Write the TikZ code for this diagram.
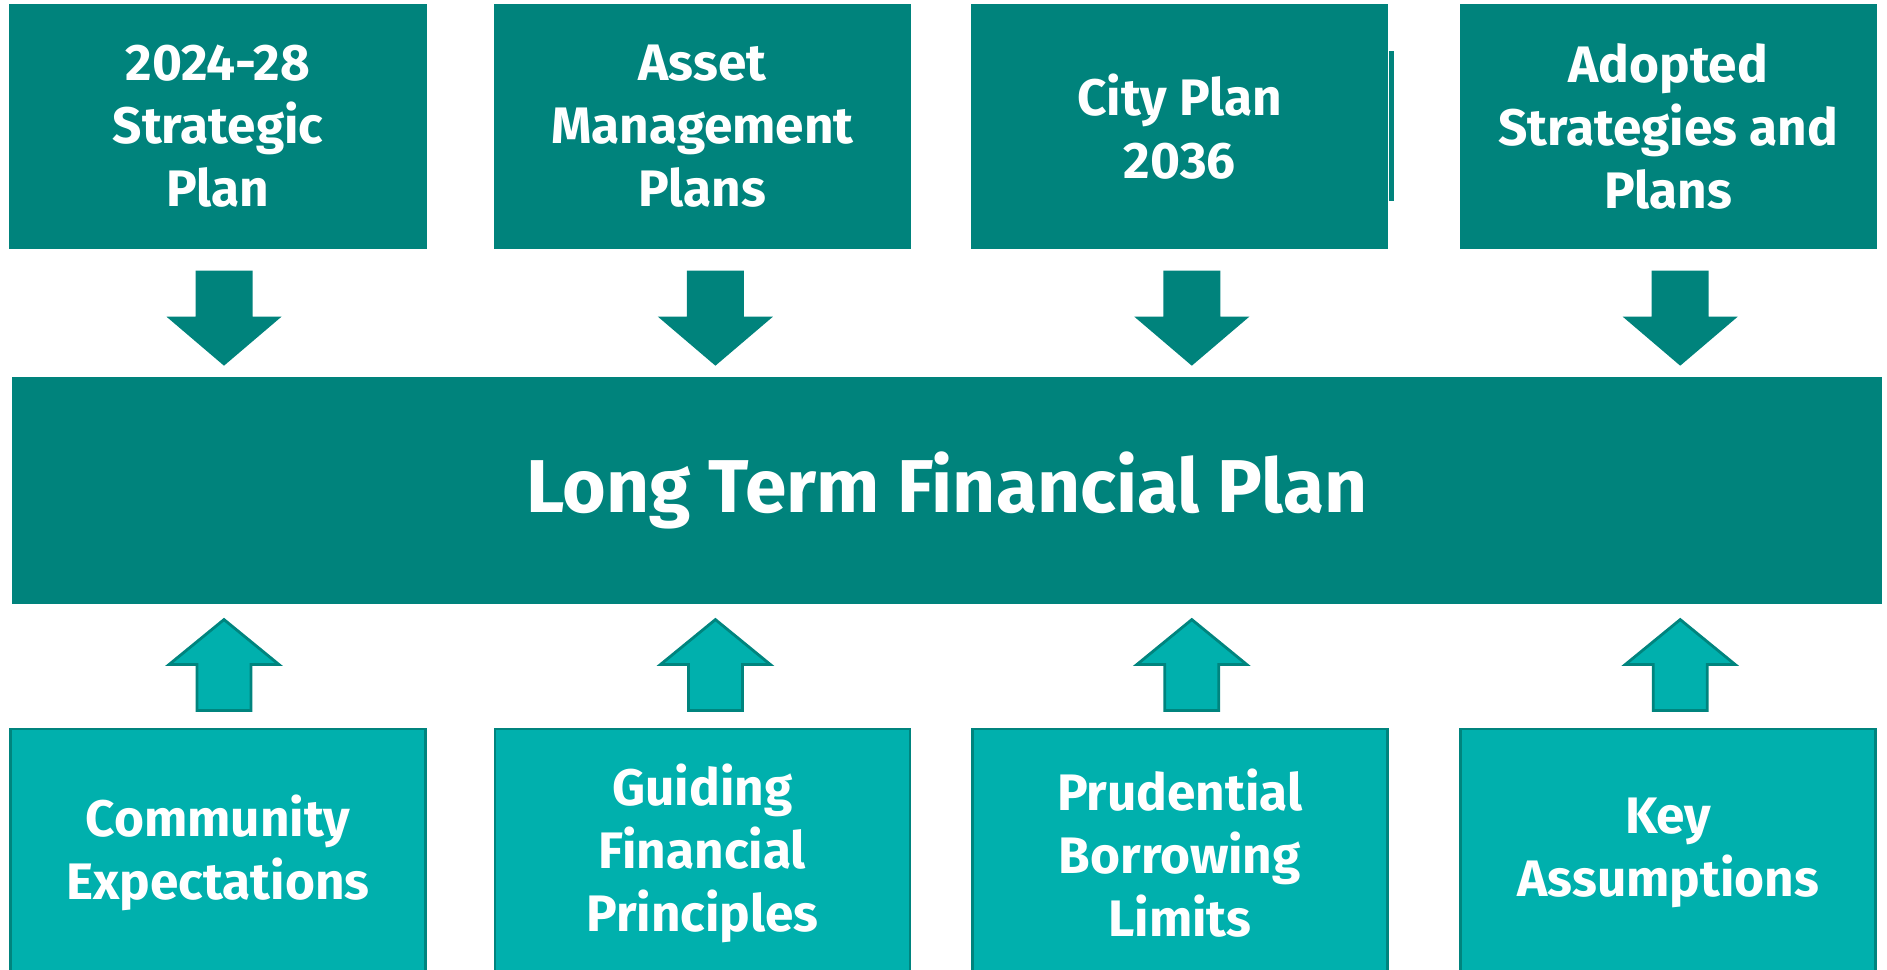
\documentclass[tikz,border=0pt]{standalone}
\usepackage{fontspec}
\setmainfont{Fira Sans}
\usetikzlibrary{positioning,calc}

\definecolor{tealdark}{RGB}{0,131,124}
\definecolor{teallight}{RGB}{0,176,173}
\definecolor{tealedge}{RGB}{0,132,126}

\begin{document}
\begin{tikzpicture}[
    topbox/.style={rectangle, fill=tealdark, text=white, align=center,
      minimum width=4.17cm, minimum height=2.45cm,
      font=\bfseries\fontsize{14.6}{17.9}\selectfont},
    lowbox/.style={rectangle, fill=teallight, draw=tealedge, line width=0.8pt,
      text=white, align=center, minimum width=4.15cm, minimum height=2.48cm,
      font=\bfseries\fontsize{14.6}{17.9}\selectfont},
    arrowdown/.pic={
      \fill[tealdark] (-0.285,0.95) -- (0.285,0.95) -- (0.285,0.49) -- (0.575,0.49)
        -- (0,0) -- (-0.575,0.49) -- (-0.285,0.49) -- cycle;},
    arrowup/.pic={
      \filldraw[fill=teallight, draw=tealedge, line width=0.8pt]
        (-0.27,0) -- (0.27,0) -- (0.27,0.46) -- (0.55,0.46)
        -- (0,0.91) -- (-0.55,0.46) -- (-0.27,0.46) -- cycle;}
  ]
  \useasboundingbox (0,0) rectangle (18.87,9.70);
  \clip (0,0) rectangle (18.87,9.70);

  % plans feeding in from above
  \node[topbox] (S) at (2.18,8.435) {2024-28\\Strategic\\Plan};
  \node[topbox, right=0.66cm of S] (A) {Asset\\Management\\Plans};
  \node[topbox, right=0.59cm of A] (C) {City Plan\\2036};
  \node[topbox, right=0.70cm of C] (D) {Adopted\\Strategies and\\Plans};
  \fill[tealdark] ($(C.north east)+(0,-0.48)$) rectangle ($(C.north east)+(0.05,-1.98)$);

  % the plan itself
  \node[rectangle, fill=tealdark, text=white, minimum width=18.70cm, minimum height=2.27cm,
    font=\bfseries\fontsize{21.3}{25}\selectfont] (L) at (9.47,4.795) {Long Term Financial Plan};

  % inputs from below
  \node[lowbox] (E) at (2.18,1.17) {Community\\Expectations};
  \node[lowbox] (G) at (A |- E) {Guiding\\Financial\\Principles};
  \node[lowbox] (P) at (C |- E) {Prudential\\Borrowing\\Limits};
  \node[lowbox] (K) at (D |- E) {Key\\Assumptions};

  \foreach \n/\dx in {S/0.06, A/0.13, C/0.12, D/0.12}
    \pic at ($(\n.south)+(\dx,-1.16)$) {arrowdown};
  \foreach \n/\dx in {E/0.06, G/0.13, P/0.12, K/0.12}
    \pic at ($(\n.north)+(\dx,0.17)$) {arrowup};
\end{tikzpicture}
\end{document}
